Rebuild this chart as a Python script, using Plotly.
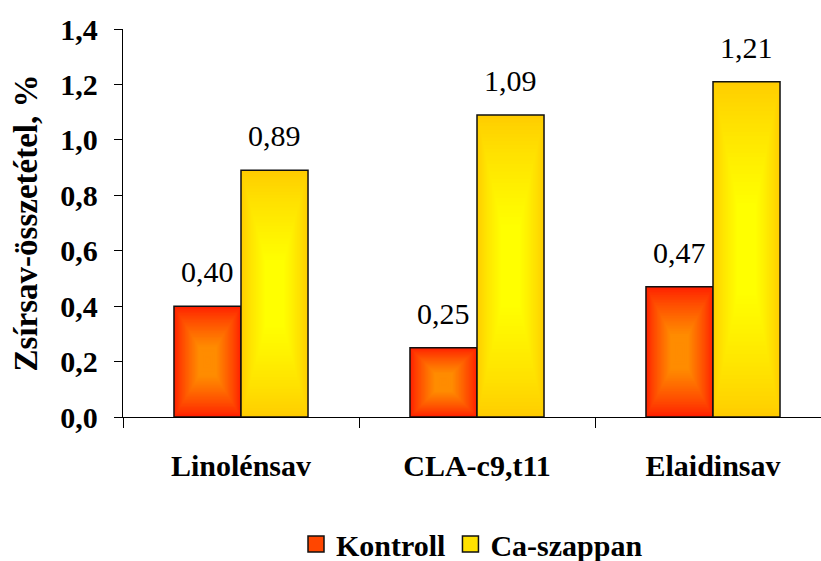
import plotly.graph_objects as go

# Fatty acid composition (%) for the two feeding groups
categories = ["Linolénsav", "CLA-c9,t11", "Elaidinsav"]
kontroll = [0.40, 0.25, 0.47]
ca_szappan = [0.89, 1.09, 1.21]

FONT = "Times New Roman, Liberation Serif, serif"
BAR_W = 0.284          # width of one bar in category units
N_STEPS = 40           # rings used for the centre-out gradient fill

# plot-area geometry (pixels)
FIG_W, FIG_H = 821, 561
M_L, M_R, M_T, M_B = 123, 0, 29, 144
PLOT_W = FIG_W - M_L - M_R
PX_PER_CAT = 236.0
X_MAX = -0.5 + PLOT_W / PX_PER_CAT


def mix(c1, c2, f):
    r = round(c1[0] + (c2[0] - c1[0]) * f)
    g = round(c1[1] + (c2[1] - c1[1]) * f)
    b = round(c1[2] + (c2[2] - c1[2]) * f)
    return f"rgb({r},{g},{b})"


series = [
    ("Kontroll", kontroll, (255, 30, 0), (255, 140, 0), -BAR_W, "rgb(255,70,0)"),
    ("Ca-szappan", ca_szappan, (255, 204, 0), (255, 255, 0), 0.0, "rgb(255,225,0)"),
]

fig = go.Figure()

for name, vals, outer, inner, base_off, legend_col in series:
    # concentric, proportionally shrinking rectangles -> "from centre" gradient
    for k in range(N_STEPS):
        t = k / N_STEPS
        f = min(1.0, (k / (N_STEPS - 1)) / 0.75) ** 0.8
        fig.add_trace(go.Bar(
            x=categories,
            y=[v * (1 - t) for v in vals],
            base=[v * t / 2 for v in vals],
            width=BAR_W * (1 - t),
            offset=base_off + BAR_W * t / 2,
            marker=dict(color=mix(outer, inner, f), line=dict(width=0)),
            showlegend=False,
            hoverinfo="skip",
        ))
    # black outline on top
    fig.add_trace(go.Bar(
        x=categories,
        y=vals,
        width=BAR_W,
        offset=base_off,
        marker=dict(color="rgba(0,0,0,0)", line=dict(color="#111111", width=1.5)),
        showlegend=False,
        name=name,
    ))
    # legend entry
    fig.add_trace(go.Scatter(
        x=[None], y=[None], mode="markers", name=name,
        marker=dict(symbol="square", size=16, color=legend_col,
                    line=dict(color="#111111", width=1.5)),
    ))

# value labels above the bars
annotations = []
for name, vals, outer, inner, base_off, legend_col in series:
    shift = (base_off + BAR_W / 2) * PX_PER_CAT
    for c, v in zip(categories, vals):
        annotations.append(dict(
            x=c, y=v, xref="x", yref="y",
            text=f"{v:.2f}".replace(".", ","),
            showarrow=False, yanchor="bottom", xshift=shift, yshift=16,
            font=dict(family=FONT, size=30, color="black"),
        ))

fig.update_layout(
    width=FIG_W, height=FIG_H,
    margin=dict(l=M_L, r=M_R, t=M_T, b=M_B, autoexpand=False),
    paper_bgcolor="white", plot_bgcolor="white",
    barmode="overlay",
    separators=", ",
    font=dict(family=FONT, color="black"),
    annotations=annotations,
    legend=dict(
        orientation="h", x=0.5, xanchor="center",
        yref="container", y=(FIG_H - 544) / FIG_H, yanchor="middle",
        font=dict(family=FONT, size=30, color="black", weight="bold"),
        itemclick=False, itemdoubleclick=False,
    ),
    xaxis=dict(
        type="category", categoryorder="array", categoryarray=categories,
        range=[-0.5, X_MAX],
        tickson="boundaries", ticks="outside", ticklen=10, tickcolor="black",
        showline=True, linecolor="black", linewidth=1.3, showgrid=False,
        ticklabelstandoff=22,
        tickfont=dict(family=FONT, size=30, color="black", weight="bold"),
    ),
    yaxis=dict(
        range=[0, 1.4], dtick=0.2, tick0=0, tickformat=".1f",
        ticks="outside", ticklen=8, tickcolor="black",
        showline=True, linecolor="black", linewidth=1.3,
        showgrid=False, zeroline=False,
        ticklabelstandoff=10,
        tickfont=dict(family=FONT, size=30, color="black", weight="bold"),
        title=dict(text="Zsírsav-összetétel, %", standoff=12,
                   font=dict(family=FONT, size=33, color="black", weight="bold")),
    ),
)

fig.write_html("out.html")
